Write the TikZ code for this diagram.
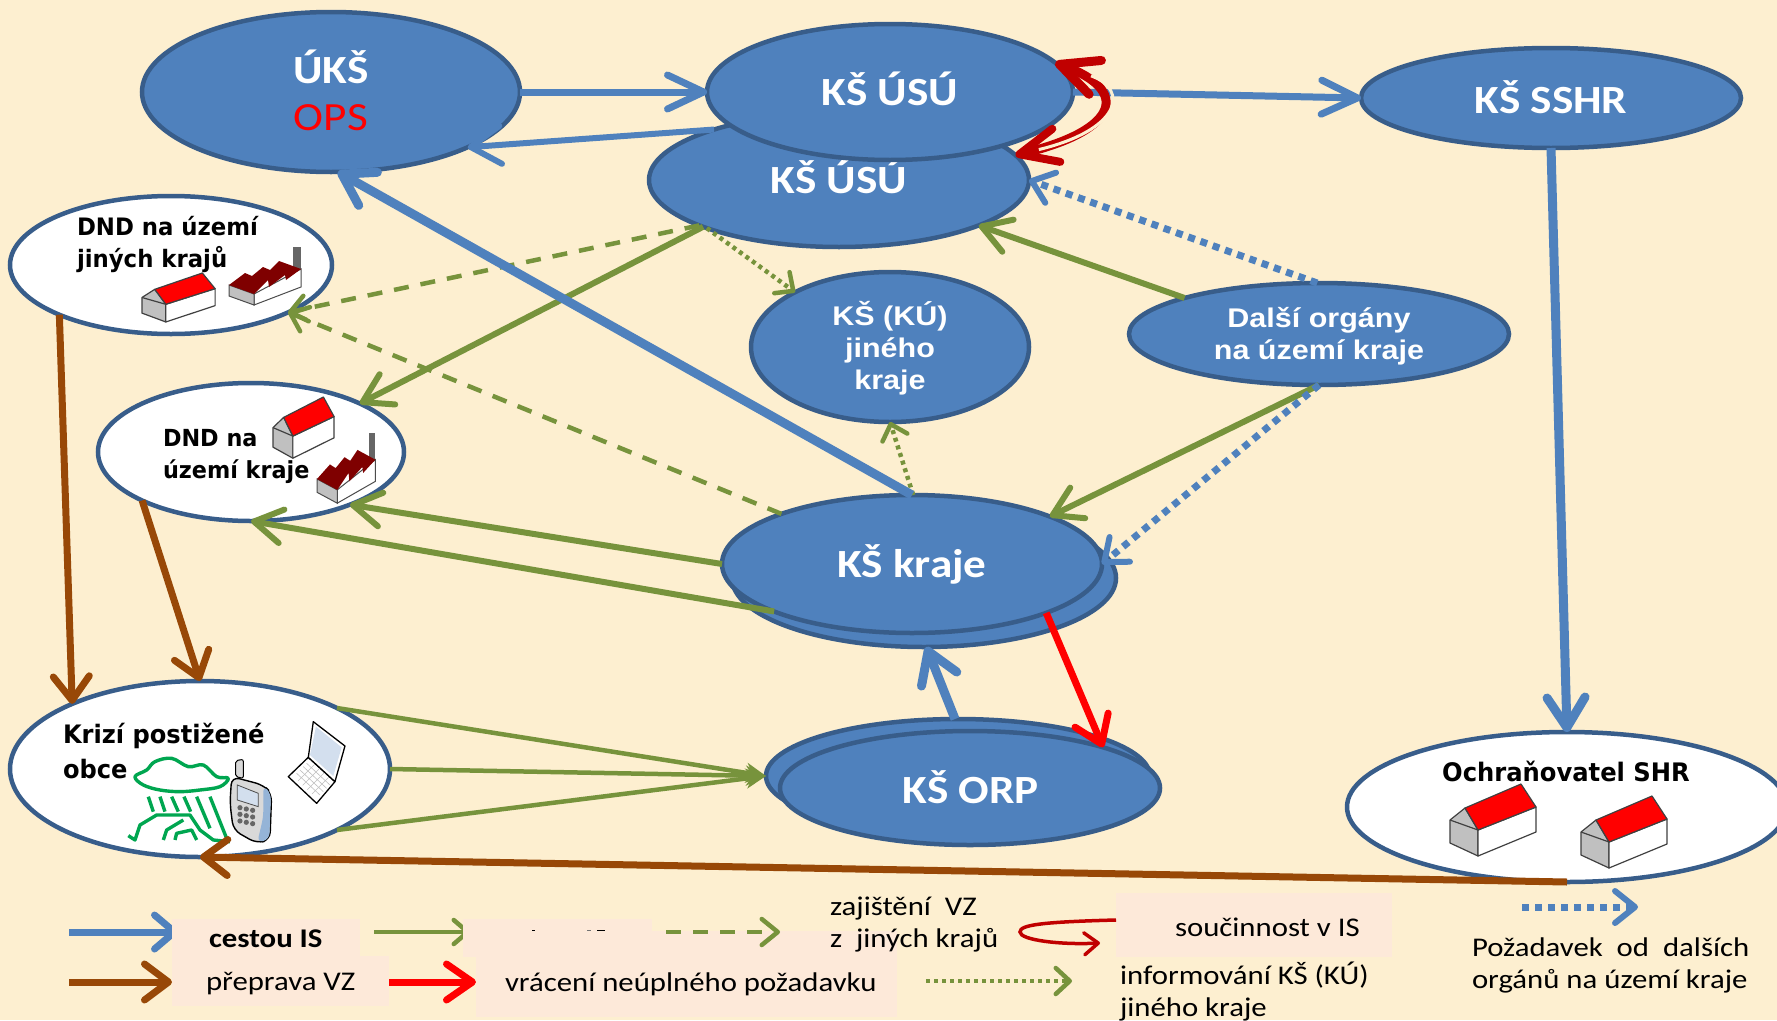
\documentclass[tikz,border=0pt]{standalone}
\usepackage{fontspec}
\setmainfont{Carlito}[FakeStretch=1.14]
\newfontfamily\bigf{Carlito}[FakeStretch=1.13]
\newfontfamily\verdb{DejaVu Sans}[FakeStretch=0.95]
\newfontfamily\arlb{Liberation Sans}[FakeStretch=1.13]
\usetikzlibrary{shapes.geometric,arrows.meta,calc}
\definecolor{bgc}{HTML}{FDEFD0}
\definecolor{boxc}{HTML}{FDE9D9}
\definecolor{fillb}{HTML}{4F81BD}
\definecolor{lineb}{HTML}{385D8A}
\definecolor{grn}{HTML}{77933C}
\definecolor{brn}{HTML}{984807}
\definecolor{dred}{HTML}{C00000}
\definecolor{wall}{HTML}{C0C0C0}
\definecolor{froof}{HTML}{7F0000}
\definecolor{storm}{HTML}{00A650}
\tikzset{
  x=1pt,y=-1pt,
  oval/.style={ellipse,draw=lineb,line width=4.5pt,inner sep=0pt,outer sep=0pt},
  blueoval/.style={oval,fill=fillb,text=white,align=center},
  whiteoval/.style={oval,fill=white},
  bigtxt/.style={font=\bigf\fontsize{40}{48}\selectfont\bfseries},
  midtxt/.style={font=\arlb\fontsize{27}{32}\selectfont\bfseries},
  lbl/.style={inner sep=0pt,outer sep=0pt,align=left,text=black},
  legtxt/.style={inner sep=0pt,outer sep=0pt,font=\fontsize{27}{32}\selectfont,align=left,text=black},
  pbox/.style={fill=boxc,draw=none,inner sep=0pt,outer sep=0pt},
  bluear/.style={draw=fillb,line width=#1,-{Straight Barb[round,length=30pt,width=38pt]}},
  grnar/.style={draw=grn,line width=6pt,-{Straight Barb[round,length=28pt,width=34pt]}},
  brnar/.style={draw=brn,line width=7pt,-{Straight Barb[round,length=24pt,width=36pt]}},
  redar/.style={draw=red,line width=7pt,-{Straight Barb[round,length=26pt,width=36pt]}},
  grndash/.style={draw=grn,line width=4.5pt,dash pattern=on 15pt off 12pt,-{Straight Barb[round,length=16pt,width=26pt,line width=4.5pt,sep=0pt]}},
  grndot/.style={draw=grn,line width=4.5pt,dash pattern=on 4pt off 4pt,-{Straight Barb[round,length=14pt,width=26pt,line width=4.5pt]}},
  bluedot/.style={draw=fillb,line width=7pt,dash pattern=on 7pt off 6pt,-{Straight Barb[round,length=20pt,width=32pt,line width=6pt]}},
  thingrn/.style={draw=grn,line width=4.5pt},
  bldg/.pic={
    \draw[black!75,line width=1.2pt,fill=wall,line join=round] (0,36)--(15,24)--(28,46)--(28,72)--(0,59)--cycle;
    \draw[black!75,line width=1.2pt] (0,36)--(28,46);
    \draw[black!75,line width=1.2pt,fill=white,line join=round] (28,46)--(86,23)--(86,48)--(28,72)--cycle;
    \draw[black!75,line width=1.2pt,fill=red,line join=round] (15,24)--(71,0)--(86,23)--(28,46)--cycle;
  },
  plant/.pic={
    \fill[black!60] (64,0) rectangle (72,24);
    \draw[black!70,line width=1pt,fill=white] (25,47)--(72,22)--(72,40)--(25,58)--cycle;
    \draw[black!70,line width=1pt,fill=wall] (0,38)--(25,47)--(25,58)--(0,49)--cycle;
    \fill[froof] (0,38)--(16,26)--(23,29)--(34,20)--(41,23)--(50,14)--(72,22)--(57,33)--(56,28)--(40,40)--(39,33)--(25,47)--cycle;
  },
}
\begin{document}
\begin{tikzpicture}
\useasboundingbox (0,0) rectangle (1777,1020);
\fill[bgc] (0,0) rectangle (1777,1020);
\begin{scope}
\clip (0,0) rectangle (1777,1020);
% ovals
\node[blueoval,minimum width=378pt,minimum height=160pt] (uks) at (331,92) {};
\node[inner sep=0pt,text=white,align=center,font=\bigf\fontsize{40}{47}\selectfont] (uksT) at (331,90) {\textbf{ÚKŠ}\\\textcolor{red}{OPS}};
\node[blueoval,minimum width=380pt,minimum height=134pt] (usuL) at (839,180) {};
\node[inner sep=0pt,text=white,bigtxt] (usuLT) at (839,177) {KŠ ÚSÚ};
\node[blueoval,minimum width=366pt,minimum height=136pt] (usuT) at (890,92) {};
\node[inner sep=0pt,text=white,bigtxt] (usuTT) at (890,89) {KŠ ÚSÚ};
\node[blueoval,minimum width=380pt,minimum height=100pt] (sshr) at (1551,98) {};
\node[inner sep=0pt,text=white,bigtxt] (sshrT) at (1551,97) {KŠ SSHR};
\node[whiteoval,minimum width=322pt,minimum height=138pt] (dndJ) at (171,265) {};
\node[whiteoval,minimum width=306pt,minimum height=138pt] (dndK) at (251,452) {};
\node[blueoval,minimum width=278pt,minimum height=150pt] (ku) at (890,347) {};
\node[inner sep=0pt,text=white,align=center,midtxt] (kuT) at (890,348) {KŠ (KÚ)\\jiného\\kraje};
\node[blueoval,minimum width=380pt,minimum height=102pt] (dalsi) at (1319,334) {};
\node[inner sep=0pt,text=white,align=center,midtxt] (dalsiT) at (1319,336) {Další orgány\\na území kraje};
\node[blueoval,minimum width=384pt,minimum height=138pt] (krajeB) at (924,578) {};
\node[blueoval,bigtxt,minimum width=380pt,minimum height=138pt] (krajeF) at (912,564) {KŠ kraje};
\node[blueoval,minimum width=384pt,minimum height=114pt] (orpB) at (958,776) {};
\node[blueoval,minimum width=380pt,minimum height=114pt] (orpF) at (970,788) {};
\node[inner sep=0pt,text=white,bigtxt] (orpT) at (971,787) {KŠ ORP};
\node[whiteoval,minimum width=380pt,minimum height=176pt] (krizi) at (200,769) {};
\node[whiteoval,minimum width=440pt,minimum height=150pt] (ochr) at (1567,807) {};
% labels in white ovals
\node[lbl,anchor=west,font=\verdb\fontsize{24}{32}\selectfont\bfseries] (tJ) at (77,244) {DND na území\\jiných krajů};
\node[lbl,anchor=west,font=\verdb\fontsize{23.5}{32}\selectfont\bfseries] (tK) at (163,456) {DND na\\území kraje};
\node[lbl,anchor=west,font=\verdb\fontsize{25.4}{35}\selectfont\bfseries] (tO) at (63,751) {Krizí postižené\\obce};
\node[lbl,font=\verdb\fontsize{25.5}{32}\selectfont\bfseries] (tS) at (1566,771) {Ochraňovatel SHR};
% icons
\pic[xscale=.85,yscale=.68] at (142,273) {bldg};
\pic at (229,247) {plant};
\pic[xscale=.71,yscale=.85] at (273,397) {bldg};
\pic[xscale=.81,yscale=1.21] at (317,433) {plant};
\pic at (1450,784) {bldg};
\pic at (1581,796) {bldg};
% storm, phone, laptop
\begin{scope}[shift={(0,670)},x=.3333pt,y=-.3333pt]
\draw[storm,line width=3.4pt,line join=round] plot[smooth cycle,tension=.6] coordinates {(405,320) (440,300) (465,275) (515,265) (565,290) (610,285) (650,320) (685,325) (660,350) (600,360) (540,365) (480,360) (430,345)};
\foreach \a/\b/\c/\d in {445/380/460/425,480/380/495/425,515/380/535/425,552/380/572/425,590/380/630/475,630/380/680/505}
  \draw[storm,line width=3.4pt] (\a,\b)--(\c,\d);
\draw[storm,line width=3.4pt,line join=round] (385,497)--(405,510)--(420,465)--(470,435)--(570,435)--(600,480)--(640,510)--(690,515);
\draw[storm,line width=3.4pt,line join=round] (490,510)--(500,480)--(550,450);
\draw[storm,line width=3.4pt,line join=round] (525,510)--(530,490)--(575,480)--(590,510);
% phone
\draw[black,line width=1pt,fill=wall!60,rounded corners=2pt] (707,320)--(707,272)--(730,268)--(730,325)--cycle;
\draw[black,line width=1.4pt,fill=black!15,rounded corners=8pt] (695,320)--(790,345)--(815,370)--(810,510)--(770,520)--(700,480)--(690,400)--cycle;
\fill[fillb!60,rounded corners=6pt] (790,347)--(813,370)--(808,508)--(772,518)--(790,440)--cycle;
\draw[black!70,line width=.8pt,fill=fillb!25] (712,345)--(775,370)--(775,410)--(712,390)--cycle;
\foreach \r in {0,1,2} \foreach \c in {0,1,2}
  \fill[black!60] ({720+\c*19},{413+\r*20+\c*4}) circle (2.6pt);
% laptop
\draw[black,line width=1.3pt,fill=white,line join=round] (865,320)--(925,262)--(1005,335)--(950,400)--cycle;
\draw[black,line width=1.3pt,fill=white,line join=round] (925,262)--(940,155)--(1035,228)--(1005,335)--cycle;
\fill[fillb!25] (930,255)--(948,170)--(1025,232)--(1000,318)--cycle;
\foreach \t in {1,2,3,4}{
  \draw[black!25,line width=.6pt] ($(880,320)!\t/5!(950,385)$)--($(930,270)!\t/5!(1000,335)$);
  \draw[black!25,line width=.6pt] ($(880,320)!\t/5!(930,270)$)--($(950,385)!\t/5!(1000,335)$);
}
\end{scope}
% connectors
\draw[bluear=7pt,-{Straight Barb[round,length=36pt,width=34pt]}] (uks.0)--(usuT.180);
\draw[bluear=6pt] (usuL.158)--(uks.-22.6);
\draw[bluear=7pt,-{Straight Barb[round,length=36pt,width=34pt]}] (usuT.0)--(sshr.180);
\draw[bluear=9pt] (sshr.-90)--(ochr.90);
\draw[grndash] (usuL.198.7)--(dndJ.-22.9);
\draw[grndash] (krajeF.159.4)--(dndJ.-22.9);
\draw[grnar] (usuL.199.7)--(dndK.24.3);
\draw[grndot] (usuL.200.9)--(ku.150.8);
\draw[grndot] (krajeF.89)--(ku.-90);
\draw[bluear=9pt] (krajeF.90)--(uks.-85);
\draw[grnar] (dalsi.165.9)--(usuL.-18.8);
\draw[bluedot] (dalsi.92)--(usuL.0);
\draw[grnar] (dalsi.-90)--(krajeF.19);
\draw[bluedot] (dalsi.-90)--(krajeF.0);
\draw[grnar] (krajeF.180)--(dndK.-28.8);
\draw[grnar] (krajeF.199.8)--(dndK.-90);
\draw[redar] (krajeF.-20.2)--(orpF.17.9);
\draw[bluear=9pt] (orpB.93)--(krajeB.-88);
\draw[thingrn,-{Stealth[length=20pt,width=20pt]}] (krizi.24.5)--(orpB.180);
\draw[thingrn,-{Stealth[length=20pt,width=20pt]}] (krizi.0)--(orpB.180);
\draw[thingrn,-{Stealth[length=20pt,width=20pt]}] (krizi.-24.8)--(orpB.180);
\draw[brnar] (dndJ.204.5)--(krizi.153.8);
\draw[brnar] (dndK.204.8)--(krizi.90);
\draw[brnar] (ochr.-90)--(krizi.-90);
% mutual help: double red curve
\draw[dred,line width=9pt,{Straight Barb[round,length=38pt,width=34pt,line width=8pt]}-{Straight Barb[round,length=38pt,width=36pt,line width=9pt]}] (usuL.8.7) .. controls (1120,130) and (1130,90) .. (usuT.10.8);
\draw[bgc,line width=3pt,shorten <=24pt,shorten >=38pt] (usuL.8.7) .. controls (1120,130) and (1130,90) .. (usuT.10.8);
% legend arrows
\coordinate (a1) at (69,932); \coordinate (a1e) at (178,932);
\coordinate (a2) at (374,932); \coordinate (a2e) at (470,932);
\coordinate (a3) at (666,932); \coordinate (a3e) at (780,932);
\coordinate (a4) at (69,982); \coordinate (a4e) at (172,982);
\coordinate (a5) at (389,982); \coordinate (a5e) at (476,982);
\coordinate (a6) at (926,981); \coordinate (a6e) at (1072,981);
\coordinate (a7) at (1522,907); \coordinate (a7e) at (1638,907);
\draw[bluear=7pt,-{Straight Barb[round,length=20pt,width=34pt]}] (a1)--(a1e);
\draw[thingrn,-{Straight Barb[round,length=14pt,width=24pt]}] (a2)--(a2e);
\draw[brnar] (a4)--(a4e);
\draw[redar] (a5)--(a5e);
% legend boxes
\fill[pbox] (172,919) rectangle (360,957);
\fill[pbox] (463,919) rectangle (652,957);
\fill[black] (532,929.6) rectangle (535,931);
\fill[black!55] (587,929.6) rectangle (591,931);
\fill[black] (597,929.6) rectangle (605,931);
\fill[pbox] (172,956) rectangle (389,1006);
\fill[pbox] (476,931) rectangle (897,1017);
\fill[pbox] (1116,893) rectangle (1392,957);
\draw[grndash] (a3)--(a3e);
\draw[grndot] (a6)--(a6e);
\draw[bluedot] (a7)--(a7e);
\coordinate (c1) at (1116,920); \coordinate (c2) at (1100,943);
\draw[dred,line width=3.5pt,-{Straight Barb[round,length=14pt,width=22pt]}] (c1) .. controls (1040,922) and (1020,925) .. (1020,932) .. controls (1020,940) and (1060,945) .. (c2);
% legend text
\node[legtxt,anchor=west,font=\fontsize{27}{32}\selectfont\bfseries] (l1) at (209,939) {cestou IS};
\node[legtxt,anchor=west] (l2) at (206,984) {přeprava VZ};
\node[legtxt,anchor=west] (l3) at (505,984) {vrácení neúplného požadavku};
\node[legtxt,anchor=west] (l4) at (830,925) {zajištění~~VZ\\z~~jiných krajů};
\node[legtxt,anchor=west] (l5) at (1175,927) {součinnost v IS};
\node[legtxt,anchor=west] (l6) at (1120,992) {informování KŠ (KÚ)\\jiného kraje};
\node[legtxt,anchor=west] (l7) at (1472,965) {Požadavek~~od~~dalších\\orgánů na území kraje};
\end{scope}
\end{tikzpicture}
\end{document}
